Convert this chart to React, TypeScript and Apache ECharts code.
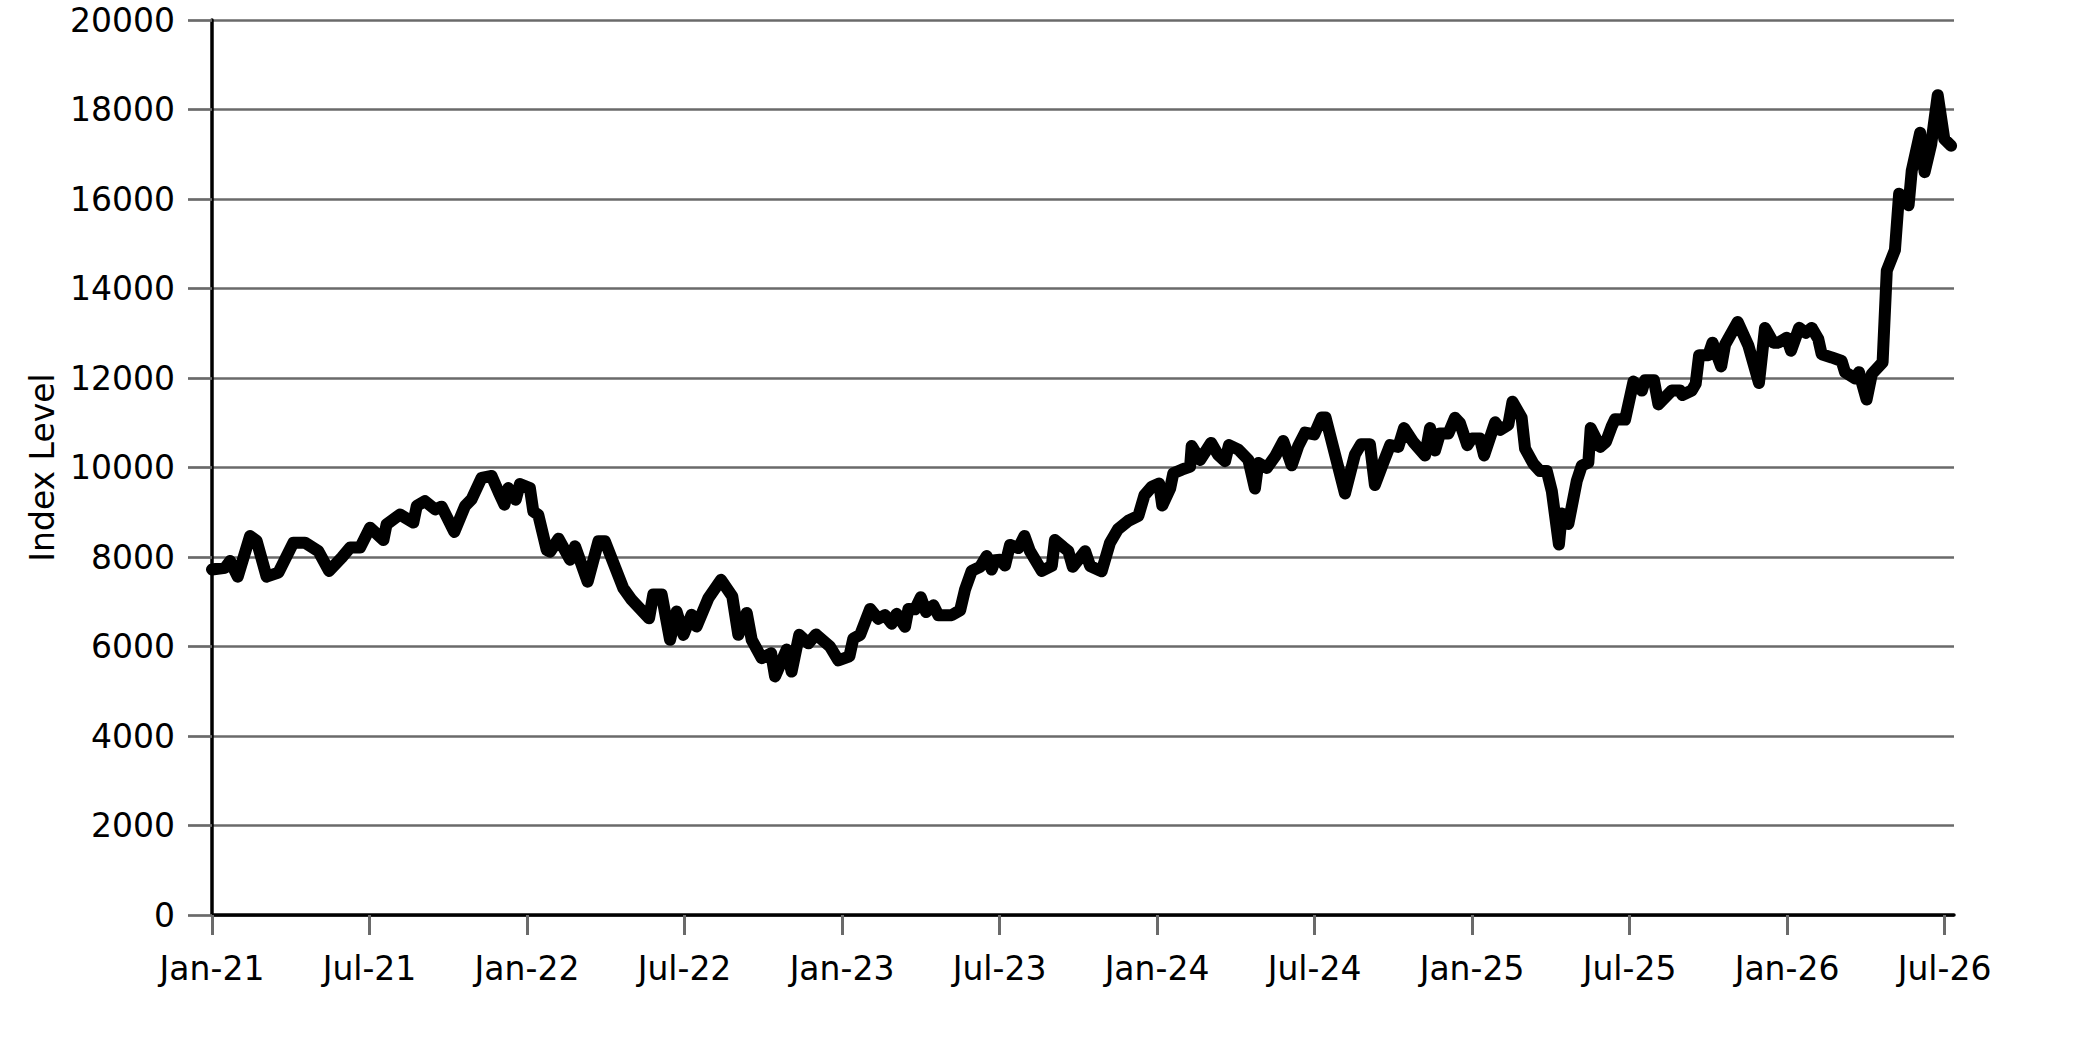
import React, { useEffect, useRef } from "react";
import * as echarts from "echarts";

// x: months elapsed since Jan 2021; y: index level
const monthsSinceJan21: number[] = [
  0.0, 0.5, 0.69, 0.98, 1.45, 1.7, 2.08, 2.53, 3.1, 3.54, 4.05, 4.46, 4.94, 5.26, 5.64,
  6.02, 6.53, 6.65, 7.16, 7.67, 7.8, 8.11, 8.5, 8.75, 9.23, 9.64, 9.89, 10.27, 10.65,
  10.91, 11.14, 11.29, 11.57, 11.73, 12.11, 12.24, 12.43, 12.75, 12.88, 13.2, 13.64,
  13.83, 14.31, 14.72, 14.97, 15.67, 15.99, 16.65, 16.81, 17.13, 17.45, 17.7, 17.96,
  18.27, 18.46, 18.91, 19.39, 19.82, 20.05, 20.37, 20.56, 20.94, 21.3, 21.45, 21.89,
  22.08, 22.37, 22.72, 23.01, 23.54, 23.86, 24.28, 24.43, 24.69, 25.07, 25.38, 25.64,
  25.89, 26.08, 26.4, 26.53, 26.78, 27.0, 27.2, 27.48, 27.67, 28.18, 28.5, 28.69, 28.94,
  29.26, 29.51, 29.7, 29.83, 30.02, 30.21, 30.4, 30.72, 30.95, 31.16, 31.61, 31.99,
  32.11, 32.43, 32.62, 32.79, 33.26, 33.45, 33.89, 34.21, 34.51, 34.91, 35.29, 35.52,
  35.8, 36.08, 36.2, 36.5, 36.62, 36.94, 37.26, 37.32, 37.64, 38.06, 38.32, 38.59, 38.74,
  39.1, 39.48, 39.73, 39.86, 40.18, 40.5, 40.81, 41.13, 41.38, 41.64, 41.99, 42.27,
  42.42, 43.16, 43.54, 43.77, 44.11, 44.3, 44.62, 44.88, 45.19, 45.41, 45.76, 46.21,
  46.4, 46.59, 46.78, 47.1, 47.35, 47.54, 47.82, 47.99, 48.3, 48.46, 48.88, 49.07, 49.38,
  49.54, 49.89, 50.02, 50.34, 50.59, 50.85, 51.04, 51.31, 51.42, 51.67, 51.99, 52.18,
  52.43, 52.52, 52.88, 53.1, 53.32, 53.45, 53.83, 54.15, 54.47, 54.59, 54.93, 55.1,
  55.61, 55.92, 56.01, 56.37, 56.52, 56.65, 57.0, 57.16, 57.49, 57.64, 58.12, 58.53,
  58.93, 59.16, 59.48, 59.67, 59.99, 60.15, 60.46, 60.71, 60.94, 61.19, 61.32, 61.7,
  62.08, 62.21, 62.59, 62.74, 63.03, 63.23, 63.64, 63.8, 64.11, 64.27, 64.63, 64.75,
  65.07, 65.24, 65.49, 65.74, 65.99, 66.25,
];

const indexLevel: number[] = [
  7720, 7760, 7910, 7560, 8470, 8360, 7560, 7650, 8320, 8320, 8130, 7690, 7985, 8210, 8210,
  8655, 8380, 8730, 8950, 8770, 9140, 9250, 9065, 9125, 8560, 9140, 9290, 9770, 9810,
  9460, 9170, 9540, 9280, 9630, 9540, 9020, 8940, 8160, 8120, 8410, 7940,
  8240, 7450, 8350, 8350, 7300, 7040, 6630, 7160, 7160, 6150, 6780, 6260,
  6710, 6450, 7080, 7490, 7120, 6260, 6750, 6150, 5740, 5850, 5330, 5930,
  5440, 6260, 6070, 6270, 6000, 5690, 5780, 6180, 6260, 6840, 6620, 6700,
  6510, 6730, 6440, 6840, 6830, 7100, 6770, 6920, 6700, 6700, 6810, 7280, 7690,
  7780, 8020, 7720, 7930, 7940, 7810, 8270, 8200, 8470, 8130, 7690, 7800,
  8380, 8220, 8130, 7780, 8130, 7800, 7680, 8320, 8620, 8810, 8920, 9380,
  9570, 9640, 9150, 9530, 9870, 9950, 10020, 10480, 10170, 10550, 10290, 10140, 10500,
  10400, 10170, 9530, 10100, 9990, 10250, 10590, 10050, 10480, 10780, 10740, 11120,
  11120, 9420, 10290, 10520, 10520, 9610, 10110, 10500, 10460, 10880, 10570, 10270,
  10880, 10380, 10760, 10760, 11110, 10990, 10500, 10650, 10650, 10270, 11010, 10840, 10950,
  11470, 11110, 10420, 10080, 9920, 9920, 9470, 8280, 8970, 8740, 9700, 10040,
  10110, 10880, 10460, 10570, 10920, 11080, 11070, 11920, 11720, 11950, 11950, 11410,
  11720, 11720, 11620, 11720, 11870, 12510, 12510, 12790, 12260, 12750, 13250, 12720,
  11890, 13120, 12790, 12790, 12900, 12610, 13120, 13010, 13120, 12870, 12530, 12460,
  12380, 12130, 11990, 12130, 11520, 12090, 12350, 14400, 14860, 16120, 15860, 16630,
  17480, 16600, 17220, 18320, 17340, 17190,
];

const xTickMonths: number[] = [0, 6, 12, 18, 24, 30, 36, 42, 48, 54, 60, 66];
const xTickLabels: string[] = [
  "Jan-21", "Jul-21", "Jan-22", "Jul-22", "Jan-23", "Jul-23",
  "Jan-24", "Jul-24", "Jan-25", "Jul-25", "Jan-26", "Jul-26",
];
const xAxisEndMonths = 66.36;
const yAxisName = "Index Level";

const FONT = "DejaVu Sans";
const GRID_GRAY = "#6a6a6a";

export default function App() {
  const ref = useRef<HTMLDivElement>(null);

  useEffect(() => {
    if (!ref.current) return;
    const chart = echarts.init(ref.current, undefined, { renderer: "svg" });
    const data = monthsSinceJan21.map((m, i) => [m, indexLevel[i]]);
    chart.setOption({
      animation: false,
      backgroundColor: "#ffffff",
      grid: { left: 212, right: 129, top: 20, bottom: 127, containLabel: false },
      xAxis: {
        type: "value",
        min: 0,
        max: xAxisEndMonths,
        axisLine: { show: true, lineStyle: { color: "#000000", width: 3.5 } },
        axisTick: {
          show: true,
          length: 20,
          customValues: xTickMonths,
          lineStyle: { color: GRID_GRAY, width: 3 },
        },
        axisLabel: {
          customValues: xTickMonths,
          formatter: (v: number) => {
            const idx = xTickMonths.indexOf(Math.round(v));
            return idx >= 0 ? xTickLabels[idx] : "";
          },
          fontFamily: FONT,
          fontSize: 33,
          color: "#000000",
          margin: 37,
        },
        splitLine: { show: false },
      },
      yAxis: {
        type: "value",
        min: 0,
        max: 20000,
        interval: 2000,
        name: yAxisName,
        nameLocation: "middle",
        nameGap: 140,
        nameTextStyle: { fontFamily: FONT, fontSize: 33, color: "#000000" },
        axisLine: { show: true, lineStyle: { color: "#000000", width: 3.5 } },
        axisTick: { show: true, length: 24, lineStyle: { color: GRID_GRAY, width: 2.7 } },
        axisLabel: {
          formatter: (v: number) => String(v),
          fontFamily: FONT,
          fontSize: 33,
          color: "#000000",
          margin: 37,
        },
        splitLine: { show: true, lineStyle: { color: GRID_GRAY, width: 2.7 } },
      },
      series: [
        {
          type: "line",
          data,
          showSymbol: false,
          symbol: "none",
          lineStyle: { color: "#000000", width: 12, cap: "round", join: "round" },
          z: 3,
        },
      ],
    });
    return () => chart.dispose();
  }, []);

  return (
    <div
      ref={ref}
      style={{ position: "fixed", left: 0, top: 0, width: 2083, height: 1042, background: "#fff" }}
    />
  );
}
